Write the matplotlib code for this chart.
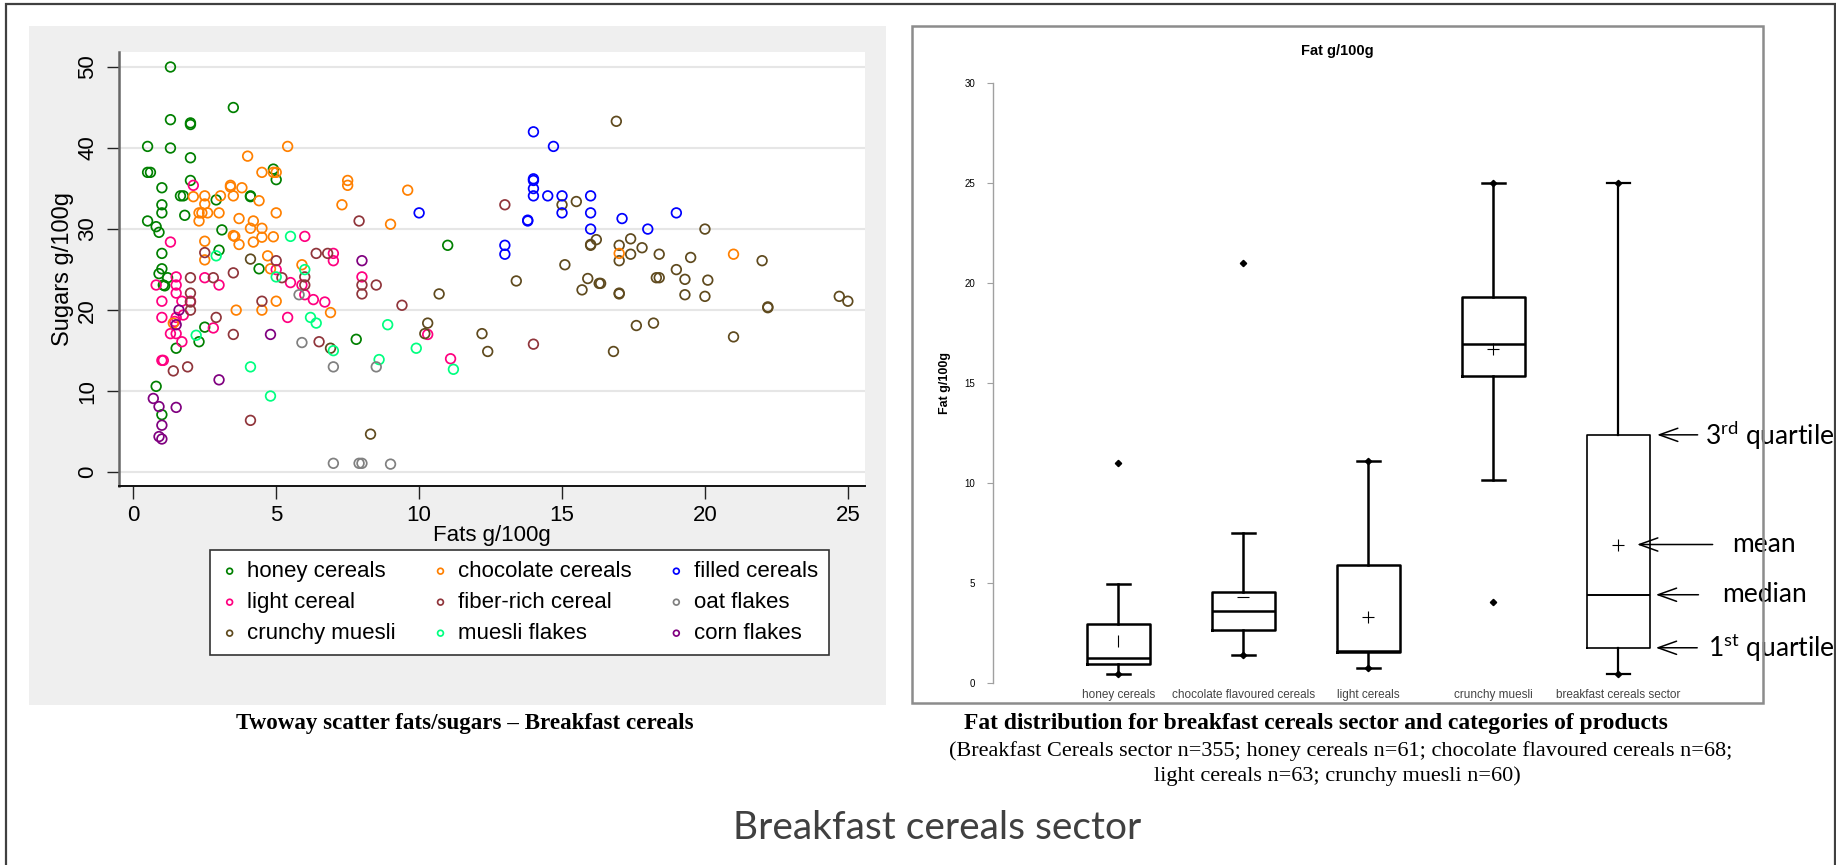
import numpy as np
import matplotlib.pyplot as plt
from matplotlib.patches import Rectangle

plt.rcParams['font.family'] = ['Liberation Sans', 'DejaVu Sans']
plt.rcParams['mathtext.fontset'] = 'custom'
plt.rcParams['mathtext.rm'] = 'Lato'

# scatter: (fat g/100g, sugar g/100g) per category
honey = [(1.3, 50.0), (3.5, 45.0), (1.3, 43.5), (2.0, 43.1), (2.0, 42.9), (0.5, 40.2), (1.3, 40.0),
         (2.0, 38.8), (0.5, 37.0), (0.6, 37.0), (4.9, 37.4), (5.0, 36.1), (2.0, 36.0), (1.0, 35.1),
         (1.65, 34.1), (1.75, 34.1), (4.1, 34.1), (4.1, 34.0), (2.9, 33.6), (1.0, 33.0), (1.0, 32.0),
         (1.8, 31.7), (0.5, 31.0), (0.8, 30.3), (0.9, 29.6), (3.1, 29.9), (1.0, 27.0), (3.0, 27.4),
         (4.4, 25.1), (1.0, 25.1), (0.9, 24.5), (1.2, 24.0), (1.05, 23.1), (1.1, 23.0), (2.5, 17.9),
         (2.3, 16.1), (1.5, 15.3), (0.8, 10.6), (1.0, 7.1), (7.8, 16.4), (11.0, 28.0)]
chocolate = [(5.4, 40.2), (4.0, 39.0), (4.5, 37.0), (4.9, 37.0), (5.0, 37.0), (3.4, 35.4), (3.4, 35.2),
             (3.8, 35.1), (3.5, 34.1), (2.1, 34.0), (2.5, 34.1), (3.05, 34.1), (2.5, 33.1), (4.4, 33.5),
             (2.3, 32.0), (2.4, 32.0), (2.6, 32.0), (3.0, 32.0), (2.3, 31.0), (3.7, 31.3), (4.2, 31.0),
             (5.0, 32.0), (4.1, 30.1), (4.5, 30.1), (3.5, 29.2), (3.55, 29.1), (3.7, 28.1), (4.2, 28.4),
             (4.5, 29.0), (4.9, 29.05), (2.5, 28.5), (2.5, 26.2), (4.7, 26.7), (4.8, 25.1), (5.0, 21.1),
             (3.6, 20.0), (4.5, 20.0), (5.9, 25.6), (6.9, 19.7), (7.3, 33.0), (7.5, 36.0), (7.5, 35.4),
             (9.6, 34.8), (9.0, 30.6), (1.4, 18.4), (17.0, 27.0), (21.0, 26.9)]
filled = [(10.0, 32.0), (14.0, 42.0), (14.7, 40.2), (14.0, 36.2), (14.0, 36.0), (14.0, 35.0), (14.0, 34.1),
          (14.5, 34.1), (15.0, 34.1), (15.0, 32.0), (16.0, 34.1), (16.0, 32.0), (16.0, 30.0), (13.8, 31.1),
          (13.8, 31.0), (13.0, 28.0), (13.0, 26.9), (17.1, 31.3), (18.0, 30.0), (19.0, 32.0)]
light = [(2.1, 35.4), (1.3, 28.4), (6.0, 29.1), (7.0, 27.0), (7.0, 26.1), (5.0, 25.0), (5.5, 23.4),
         (5.9, 23.1), (6.0, 21.9), (6.3, 21.3), (6.7, 21.0), (5.4, 19.1), (8.0, 24.1), (3.0, 23.1),
         (2.5, 24.0), (0.8, 23.1), (1.5, 24.1), (1.5, 23.1), (1.5, 22.1), (1.7, 21.1), (2.0, 21.1),
         (1.0, 21.1), (1.0, 19.1), (1.5, 19.1), (1.45, 18.6), (1.75, 19.4), (1.3, 17.1), (1.5, 17.1),
         (1.7, 16.1), (2.8, 17.8), (1.0, 13.8), (1.05, 13.8), (10.3, 17.0), (11.1, 14.0)]
fiber = [(13.0, 33.0), (14.0, 15.8), (9.4, 20.6), (7.9, 31.0), (6.4, 27.0), (6.8, 27.0), (2.5, 27.1),
         (2.0, 24.0), (2.8, 24.0), (3.5, 24.6), (5.0, 26.1), (5.2, 24.0), (6.0, 24.1), (6.0, 23.1),
         (2.0, 22.1), (2.0, 21.0), (2.0, 20.0), (2.9, 19.1), (3.5, 17.0), (4.5, 21.1), (8.0, 23.1),
         (8.0, 22.0), (8.5, 23.1), (6.5, 16.1), (1.4, 12.5), (1.9, 13.0), (4.1, 6.4)]
oat = [(5.8, 21.9), (5.9, 16.0), (7.0, 13.0), (8.5, 13.0), (7.0, 1.1), (7.9, 1.1), (8.0, 1.1), (9.0, 1.0)]
crunchy = [(16.9, 43.3), (15.0, 33.0), (15.5, 33.4), (16.0, 28.0), (16.0, 28.1), (16.2, 28.7), (17.0, 28.0),
           (17.4, 28.8), (17.8, 27.7), (17.0, 26.1), (17.4, 26.9), (18.4, 26.9), (19.5, 26.5), (20.0, 30.0),
           (22.0, 26.1), (15.1, 25.6), (13.4, 23.6), (15.9, 23.9), (16.3, 23.3), (16.35, 23.3), (15.7, 22.5),
           (17.0, 22.0), (17.0, 22.1), (18.3, 24.0), (18.4, 24.0), (19.0, 25.0), (19.3, 23.8), (20.1, 23.7),
           (19.3, 21.9), (20.0, 21.7), (22.2, 20.4), (22.2, 20.3), (24.7, 21.7), (25.0, 21.1), (10.7, 22.0),
           (10.3, 18.4), (10.2, 17.1), (12.2, 17.1), (12.4, 14.9), (17.6, 18.1), (18.2, 18.4), (21.0, 16.7),
           (16.8, 14.9), (8.3, 4.7), (6.9, 15.3), (4.1, 26.3)]
muesli = [(5.5, 29.1), (2.9, 26.7), (6.0, 25.0), (5.0, 24.1), (6.2, 19.1), (6.4, 18.4), (8.9, 18.2),
          (2.2, 16.9), (4.1, 13.0), (4.8, 9.4), (7.0, 15.0), (8.6, 13.9), (9.9, 15.3), (11.2, 12.7)]
corn = [(8.0, 26.1), (1.6, 20.0), (1.5, 18.2), (4.8, 17.0), (3.0, 11.4), (0.7, 9.1), (0.9, 8.1),
        (1.5, 8.0), (1.0, 5.8), (0.9, 4.4), (1.0, 4.1)]

# legend order is column-wise for matplotlib
series = [('honey cereals', honey, '#008000'),
          ('light cereal', light, '#ff0080'),
          ('crunchy muesli', crunchy, '#5f4a1e'),
          ('chocolate cereals', chocolate, '#ff8000'),
          ('fiber-rich cereal', fiber, '#90353b'),
          ('muesli flakes', muesli, '#00ff80'),
          ('filled cereals', filled, '#0000ff'),
          ('oat flakes', oat, '#808080'),
          ('corn flakes', corn, '#800080')]

# box plot stats (fat g/100g)
box_labels = ['honey cereals', 'chocolate flavoured cereals', 'light cereals',
              'crunchy muesli', 'breakfast cereals sector']
box_lo = [0.45, 1.38, 0.76, 10.15, 0.47]
box_q1 = [0.93, 2.63, 1.56, 15.36, 1.76]
box_med = [1.25, 3.58, 1.62, 16.94, 4.41]
box_q3 = [2.94, 4.56, 5.92, 19.27, 12.40]
box_hi = [4.96, 7.48, 11.10, 25.0, 25.0]
box_mean = [2.09, 4.30, 3.32, 16.71, 6.92]
box_out = [[10.97, 0.45], [20.97, 1.38], [11.1, 0.76], [4.07, 25.0], [25.0, 0.47]]
mean_marks = ['|', '_', '+', '+', '+']

W, H = 1836, 865
fig = plt.figure(figsize=(W / 100, H / 100), dpi=100)


def fx(px):
    return px / W


def fy(py):
    return 1 - py / H


# outer frame and grey panel behind scatter
fig.add_artist(Rectangle((fx(6), fy(900)), fx(1835) - fx(6), fy(4) - fy(900), transform=fig.transFigure,
                         fill=False, ec='#404040', lw=1.6))
fig.add_artist(Rectangle((fx(29), fy(705)), fx(886) - fx(29), fy(26) - fy(705), transform=fig.transFigure,
                         fc='#efefef', ec='none', zorder=0))

# ---- scatter ----
ax = fig.add_axes([fx(119), fy(486), fx(865) - fx(119), fy(52) - fy(486)])
ax.set_facecolor('white')
for name, pts, col in series:
    arr = np.array(pts)
    ax.scatter(arr[:, 0], arr[:, 1], s=48, facecolors='none', edgecolors=col, linewidths=1.25, label=name, zorder=3)
ax.set_xlim(-0.5, 25.6)
ax.set_ylim(-1.7, 51.85)
ax.set_xticks(range(0, 26, 5))
ax.set_yticks(range(0, 51, 10))
ax.yaxis.grid(True, color='#e6e6e6', lw=1.5)
ax.set_axisbelow(True)
for s in ['top', 'right']:
    ax.spines[s].set_visible(False)
ax.spines['left'].set_color('#666666')
ax.spines['left'].set_linewidth(1.8)
ax.spines['bottom'].set_color('#111111')
ax.spines['bottom'].set_linewidth(1.4)
ax.tick_params(length=9, width=1, labelsize=16, color='#222222')
ax.tick_params(axis='x', pad=5)
ax.tick_params(axis='y', pad=6)
for lab in ax.get_yticklabels():
    lab.set_rotation(90)
    lab.set_va('center')
ax.set_xlabel('Fats g/100g', fontsize=16, labelpad=-1)
ax.set_ylabel('Sugars g/100g', fontsize=17, labelpad=2)

handles, labels = ax.get_legend_handles_labels()
leg = fig.legend(handles, labels, ncol=3, loc='center', bbox_to_anchor=(fx(519.5), fy(602.5)),
                 fontsize=16, frameon=True, fancybox=False, edgecolor='#333333', framealpha=1,
                 handlelength=0.8, handletextpad=0.4, columnspacing=1.6, labelspacing=0.45,
                 borderpad=0.5, markerscale=0.6)
leg.get_frame().set_linewidth(1.2)

fig.text(fx(465), fy(724), 'Twoway scatter fats/sugars – Breakfast cereals', ha='center', va='center',
         fontsize=16.6, fontweight='bold', family='Liberation Serif')

# ---- box plot ----
fig.add_artist(Rectangle((fx(911.7), fy(703)), fx(1762.7) - fx(911.7), fy(26) - fy(703),
                         transform=fig.transFigure, fill=False, ec='#8c8c8c', lw=1.8))
bx = fig.add_axes([fx(993.3), fy(683), fx(1762.7) - fx(993.3), fy(82.6) - fy(683)])
bx.patch.set_alpha(0)
stats = [dict(label=l, whislo=a, q1=b, med=c, q3=d, whishi=e, fliers=f)
         for l, a, b, c, d, e, f in zip(box_labels, box_lo, box_q1, box_med, box_q3, box_hi, box_out)]
pos = np.arange(1, len(stats) + 1)
flier = dict(marker='D', ms=3.2, mfc='k', mec='k')
bx.bxp(stats[:4], positions=pos[:4], widths=0.506, capwidths=0.18, manage_ticks=False,
       boxprops=dict(color='k', lw=1.8), whiskerprops=dict(color='k', lw=1.8), capprops=dict(color='k', lw=1.8),
       medianprops=dict(color='k', lw=1.8), flierprops=flier)
bx.bxp(stats[4:], positions=pos[4:], widths=0.506, capwidths=0.18, manage_ticks=False,
       boxprops=dict(color='k', lw=1.2), whiskerprops=dict(color='k', lw=1.6), capprops=dict(color='k', lw=1.6),
       medianprops=dict(color='k', lw=1.4), flierprops=flier)
for p, m, mk in zip(pos, box_mean, mean_marks):
    bx.plot(p, m, marker=mk, color='k', ms=8, mew=0.8, ls='none')

bx.set_xlim(0, 6.155)
bx.set_ylim(0, 30)
for s in ['top', 'right', 'bottom']:
    bx.spines[s].set_visible(False)
bx.spines['left'].set_color('#a0a0a0')
bx.spines['left'].set_linewidth(1)
bx.set_yticks(range(0, 31, 5))
bx.tick_params(axis='y', length=4, width=0.8, color='#a0a0a0', labelsize=7, pad=9)
bx.set_xticks(pos, box_labels)
bx.tick_params(axis='x', length=0, labelsize=8.5, labelcolor='#444444', pad=4)
bx.set_ylabel('Fat g/100g', fontsize=9, fontweight='bold', labelpad=10)
fig.text(fx(1337), fy(51), 'Fat g/100g', ha='center', va='center', fontsize=10.5, fontweight='bold')

# explanation arrows on sector box
p5 = pos[4]
notes = [('3$^{\\mathrm{rd}}$ quartile', box_q3[4], 0.31, 0.69, 3),
         ('mean', box_mean[4], 0.15, 0.91, 12),
         ('median', box_med[4], 0.30, 0.83, 15),
         ('1$^{\\mathrm{st}}$ quartile', box_q1[4], 0.30, 0.72, 6)]
for txt, yv, tip, tx, shr in notes:
    bx.annotate(txt, xy=(p5 + tip, yv), xytext=(p5 + tx, yv), ha='left', va='center',
                fontsize=19, family='Lato', annotation_clip=False,
                arrowprops=dict(arrowstyle='->,head_length=0.7,head_width=0.25', lw=1.1, color='k',
                                shrinkA=shr, shrinkB=0))

fig.text(fx(1316), fy(724), 'Fat distribution for breakfast cereals sector and categories of products',
         ha='center', va='center', fontsize=16.9, fontweight='bold', family='Liberation Serif')
fig.text(fx(1341), fy(751), '(Breakfast Cereals sector n=355; honey cereals n=61; chocolate flavoured cereals n=68;',
         ha='center', va='center', fontsize=16, family='Liberation Serif')
fig.text(fx(1337), fy(776), 'light cereals n=63; crunchy muesli n=60)',
         ha='center', va='center', fontsize=16, family='Liberation Serif')

fig.text(fx(937), fy(828), 'Breakfast cereals sector', ha='center', va='center', fontsize=28,
         family='Lato', color='#404040')

fig.savefig('out.png', dpi=100)
